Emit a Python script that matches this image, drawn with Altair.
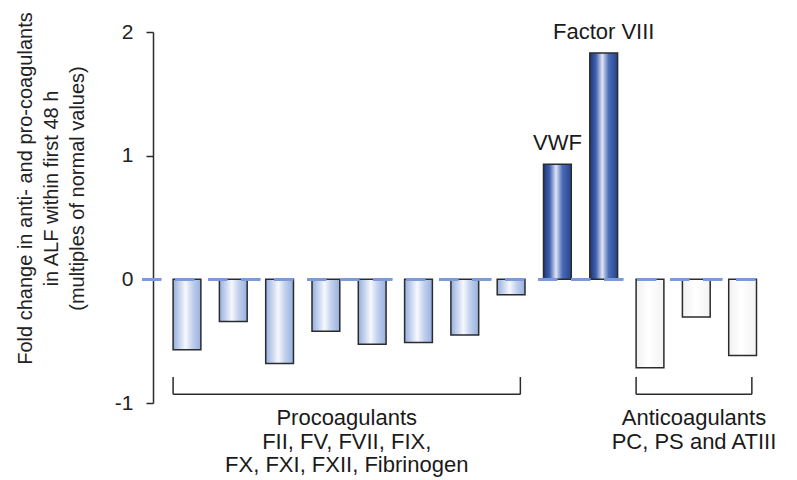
import altair as alt
import pandas as pd

# ---- data ----
factors = ["FII", "FV", "FVII", "FIX", "FX", "FXI", "FXII", "Fibrinogen",
           "VWF", "Factor VIII", "PC", "PS", "ATIII"]
fold_change = [-0.57, -0.34, -0.68, -0.42, -0.525, -0.51, -0.45, -0.125,
               0.93, 1.83, -0.715, -0.305, -0.615]
groups = ["pro"] * 8 + ["high"] * 2 + ["anti"] * 3
bar_labels = ["", "", "", "", "", "", "", "", "VWF", "Factor VIII", "", "", ""]

bracket_names = ["pro", "anti"]
bracket_first = [0, 10]
bracket_last = [7, 12]
group_text = [
    ["Procoagulants", "FII, FV, FVII, FIX,", "FX, FXI, FXII, Fibrinogen"],
    ["Anticoagulants", "PC, PS and ATIII"],
]
y_ticks = [-1, 0, 1, 2]

FONT = "Liberation Sans"
INK = "#2b2b2b"

bars = pd.DataFrame({
    "idx": list(range(len(factors))),
    "factor": factors,
    "value": fold_change,
    "group": groups,
    "label": bar_labels,
})

brackets = pd.DataFrame({"name": bracket_names, "first": bracket_first, "last": bracket_last})
text_rows = []
for b, lines in enumerate(group_text):
    for i, t in enumerate(lines):
        text_rows.append({"first": bracket_first[b], "last": bracket_last[b], "line": i, "text": t})
texts = pd.DataFrame(text_rows)

xscale = alt.Scale(domain=[-0.734, 12.419], nice=False, zero=False)
yscale = alt.Scale(domain=[-1, 2], nice=False, zero=False)

light = alt.Gradient(
    gradient="linear", x1=0, x2=1, y1=0, y2=0,
    stops=[
        alt.GradientStop(offset=0, color="#96aedd"),
        alt.GradientStop(offset=0.2, color="#c0cfed"),
        alt.GradientStop(offset=0.45, color="#f6f8fd"),
        alt.GradientStop(offset=0.7, color="#c0d0ee"),
        alt.GradientStop(offset=1, color="#98b0df"),
    ],
)
dark = alt.Gradient(
    gradient="linear", x1=0, x2=1, y1=0, y2=0,
    stops=[
        alt.GradientStop(offset=0, color="#1d3679"),
        alt.GradientStop(offset=0.22, color="#3f60ad"),
        alt.GradientStop(offset=0.45, color="#dfe6f5"),
        alt.GradientStop(offset=0.68, color="#4a6bb7"),
        alt.GradientStop(offset=1, color="#27438c"),
    ],
)
whiteish = alt.Gradient(
    gradient="linear", x1=0, x2=1, y1=0, y2=0,
    stops=[
        alt.GradientStop(offset=0, color="#f1f1f1"),
        alt.GradientStop(offset=0.45, color="#ffffff"),
        alt.GradientStop(offset=1, color="#f3f3f3"),
    ],
)

base = alt.Chart(bars).transform_calculate(
    x0="datum.idx - 0.3", x1="datum.idx + 0.3"
)

y_axis = alt.Axis(
    values=y_ticks, labelExpr="'' + datum.value", grid=False,
    domainColor=INK, domainWidth=1.5, tickColor=INK, tickWidth=1.5, tickSize=7,
    labelFont=FONT, labelFontSize=21, labelColor="#222", labelPadding=13,
    title=["Fold change in anti- and pro-coagulants",
           "in ALF within first 48 h",
           "(multiples of normal values)"],
    titleFont=FONT, titleFontSize=20, titleFontWeight="normal", titleColor="#222",
    titleLineHeight=26, titleAngle=-90, titleAlign="center", titleBaseline="middle",
    titleX=-128, titleY=156,
)


def Y(field):
    return alt.Y(field, scale=yscale, axis=y_axis)


def bar_layer(group, fill):
    return base.transform_filter(alt.datum.group == group).mark_bar(
        fill=fill, stroke=INK, strokeWidth=1.5
    ).encode(
        x=alt.X("x0:Q", scale=xscale, axis=None),
        x2="x1:Q",
        y=Y("value:Q"),
        y2=alt.datum(0),
    )


pro = bar_layer("pro", light)
high = bar_layer("high", dark)
anti = bar_layer("anti", whiteish)

zero_line = alt.Chart(bars).mark_rule(
    color="#7c9bd6", strokeWidth=2.5, strokeDash=[19, 14]
).encode(
    x=alt.datum(-0.97, scale=xscale, axis=None),
    x2=alt.datum(12.42),
    y=alt.datum(0, scale=yscale, axis=y_axis),
)

labels = base.transform_filter(alt.datum.label != "").mark_text(
    font=FONT, fontSize=22, color="#1a1a1a", baseline="alphabetic", dy=-14
).encode(
    x=alt.X("idx:Q", scale=xscale, axis=None),
    y=Y("value:Q"),
    text="label:N",
)

bk = alt.Chart(brackets).transform_calculate(
    xa="datum.first - 0.3", xb="datum.last + 0.2", yb="-0.93", yt="-0.79"
)
bracket_h = bk.mark_rule(color=INK, strokeWidth=1.5).encode(
    x=alt.X("xa:Q", scale=xscale, axis=None), x2="xb:Q", y=Y("yb:Q")
)
bracket_l = bk.mark_rule(color=INK, strokeWidth=1.5).encode(
    x=alt.X("xa:Q", scale=xscale, axis=None), y=Y("yb:Q"), y2="yt:Q"
)
bracket_r = bk.mark_rule(color=INK, strokeWidth=1.5).encode(
    x=alt.X("xb:Q", scale=xscale, axis=None), y=Y("yb:Q"), y2="yt:Q"
)

group_labels = alt.Chart(texts).transform_calculate(
    xc="(datum.first - 0.3 + datum.last + 0.2) / 2",
    yc="-1.125 - 0.19 * datum.line",
).mark_text(
    font=FONT, fontSize=22, color="#1a1a1a", baseline="middle", align="center"
).encode(
    x=alt.X("xc:Q", scale=xscale, axis=None),
    y=Y("yc:Q"),
    text="text:N",
)

chart = alt.layer(
    pro, high, anti, zero_line, labels, bracket_h, bracket_l, bracket_r, group_labels
).properties(
    width=609, height=371,
    padding={"left": 145, "top": 24, "right": 20, "bottom": 80},
    autosize=alt.AutoSizeParams(type="none"),
).configure(background="white").configure_view(strokeWidth=0)

chart.save("out.html", embed_options={"renderer": "svg", "actions": False})
